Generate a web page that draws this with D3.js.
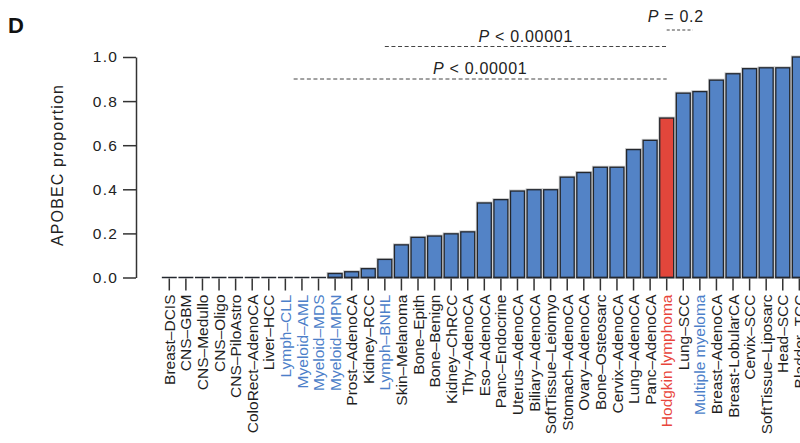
<!DOCTYPE html>
<html><head><meta charset="utf-8">
<script src="https://cdn.jsdelivr.net/npm/d3@7"></script>
<style>
body{margin:0;background:#fff}
svg{display:block}
text{font-family:"Liberation Sans",Arial,Helvetica,sans-serif}
</style>
</head><body>
<svg id="c" width="800" height="443"></svg>
<script>
const categories = ["Breast–DCIS","CNS–GBM","CNS–Medullo","CNS–Oligo","CNS–PiloAstro","ColoRect–AdenoCA","Liver–HCC","Lymph–CLL","Myeloid–AML","Myeloid–MDS","Myeloid–MPN","Prost–AdenoCA","Kidney–RCC","Lymph–BNHL","Skin–Melanoma","Bone–Epith","Bone–Benign","Kidney–ChRCC","Thy–AdenoCA","Eso–AdenoCA","Panc–Endocrine","Uterus–AdenoCA","Biliary–AdenoCA","SoftTissue–Leiomyo","Stomach–AdenoCA","Ovary–AdenoCA","Bone–Osteosarc","Cervix–AdenoCA","Lung–AdenoCA","Panc–AdenoCA","Hodgkin lymphoma","Lung–SCC","Multiple myeloma","Breast–AdenoCA","Breast-LobularCA","Cervix–SCC","SoftTissue–Liposarc","Head–SCC","Bladder–TCC"];
const values = [0,0,0,0,0,0,0,0,0,0,0.018,0.026,0.04,0.082,0.148,0.182,0.188,0.198,0.207,0.338,0.353,0.392,0.398,0.398,0.455,0.476,0.5,0.5,0.58,0.622,0.723,0.836,0.843,0.895,0.924,0.947,0.951,0.951,1.0];
const blueLabels = ["Lymph–CLL","Myeloid–AML","Myeloid–MDS","Myeloid–MPN","Lymph–BNHL","Multiple myeloma"];
const redLabels = ["Hodgkin lymphoma"];
const yTicks = [0,0.2,0.4,0.6,0.8,1.0];
const yTickLabels = ["0.0","0.2","0.4","0.6","0.8","1.0"];
const compFrom = ["Lymph–BNHL","Lymph–CLL","Hodgkin lymphoma"];
const compTo = ["Hodgkin lymphoma","Hodgkin lymphoma","Multiple myeloma"];
const compLabels = ["< 0.00001","< 0.00001","= 0.2"];

const svg = d3.select("#c");
const y0 = 277.5, y1 = 57;
const step = 16.58, firstCenter = 169.3;
const x = d3.scaleBand().domain(categories)
  .range([firstCenter - step/2, firstCenter - step/2 + step*categories.length])
  .paddingInner(0.16).paddingOuter(0.08);
const y = d3.scaleLinear().domain([0,1]).range([y0,y1]);
const xc = c => x(c) + x.bandwidth()/2;

// panel letter
svg.append("text").attr("x",8).attr("y",33).attr("font-size",22).attr("font-weight","bold").attr("fill","#111").text("D");

// y axis
const ya = svg.append("g").attr("transform","translate(136,0)")
  .call(d3.axisLeft(y).tickValues(yTicks).tickFormat((d,i)=>yTickLabels[i]).tickSize(13).tickPadding(5).tickSizeOuter(0));
ya.select(".domain").attr("stroke","#333").attr("stroke-width",1.5);
ya.selectAll(".tick line").attr("stroke","#333").attr("stroke-width",1.5);
ya.selectAll(".tick text").attr("font-size",15.5).attr("fill","#222").attr("letter-spacing",1.2)
  .attr("font-family","'Liberation Sans',Arial,sans-serif");

svg.append("text").attr("transform",`translate(63,165) rotate(-90)`).attr("text-anchor","middle")
  .attr("font-size",16).attr("letter-spacing",1.1).attr("fill","#222").text("APOBEC proportion");

// bars
const bars = svg.append("g");
const data = categories.map((c,i)=>({c, v: values[i]}));
bars.selectAll("rect.halo").data(data.filter(d=>d.v>0)).join("rect")
  .attr("x",d=>x(d.c)).attr("y",d=>y(d.v)).attr("width",x.bandwidth()).attr("height",d=>y(0)-y(d.v))
  .attr("fill","none").attr("stroke","#c8c8c8").attr("stroke-width",3);
bars.selectAll("rect.bar").data(data.filter(d=>d.v>0)).join("rect")
  .attr("x",d=>x(d.c)).attr("y",d=>y(d.v)).attr("width",x.bandwidth()).attr("height",d=>y(0)-y(d.v))
  .attr("fill",d=>redLabels.includes(d.c)?"#e2463b":"#5383c6").attr("stroke","#23272e").attr("stroke-width",1.3);
bars.selectAll("line.base").data(data).join("line")
  .attr("x1",d=>x(d.c)-0.5).attr("x2",d=>x(d.c)+x.bandwidth()+0.5).attr("y1",y(0)).attr("y2",y(0))
  .attr("stroke","#23272e").attr("stroke-width",1.5);

// x axis (ticks + labels)
const xa = svg.append("g").attr("transform",`translate(0,${y0+1})`)
  .call(d3.axisBottom(x).tickSize(12).tickPadding(4).tickSizeOuter(0));
xa.select(".domain").remove();
xa.selectAll(".tick line").attr("stroke","#333").attr("stroke-width",1.5);
xa.selectAll(".tick text")
  .attr("transform","rotate(-90)").attr("text-anchor","end").attr("x",-16).attr("y",0).attr("dy","0.36em")
  .attr("font-size",15.5).attr("font-family","'Liberation Sans',Arial,sans-serif")
  .attr("fill",d=>redLabels.includes(d)?"#e8453b":(blueLabels.includes(d)?"#4d7fc9":"#1e1e1e"));

// comparisons
const lineY = [46.5, 79, 30];
const textY = [41.5, 74, 22];
const xStart = [xc(compFrom[0]), xc(compFrom[1]) + step/2, xc(compFrom[2])];
const xEnd = [xc(compTo[0]), xc(compTo[1]), x(compTo[2])];
const dash = ["4,2.6","4,2.6","3,2.2"];
compLabels.forEach((lab,i)=>{
  svg.append("line").attr("x1",xStart[i]).attr("x2",xEnd[i]).attr("y1",lineY[i]).attr("y2",lineY[i])
    .attr("stroke","#444").attr("stroke-width",1).attr("stroke-dasharray",dash[i]);
  const t = svg.append("text").attr("x",(xStart[i]+xEnd[i])/2 - (i===2?4:0)).attr("y",textY[i])
    .attr("text-anchor","middle").attr("font-size",16).attr("letter-spacing",0.7).attr("fill","#222");
  t.append("tspan").attr("font-style","italic").text("P");
  t.append("tspan").text(" " + lab);
});
</script>
</body></html>
